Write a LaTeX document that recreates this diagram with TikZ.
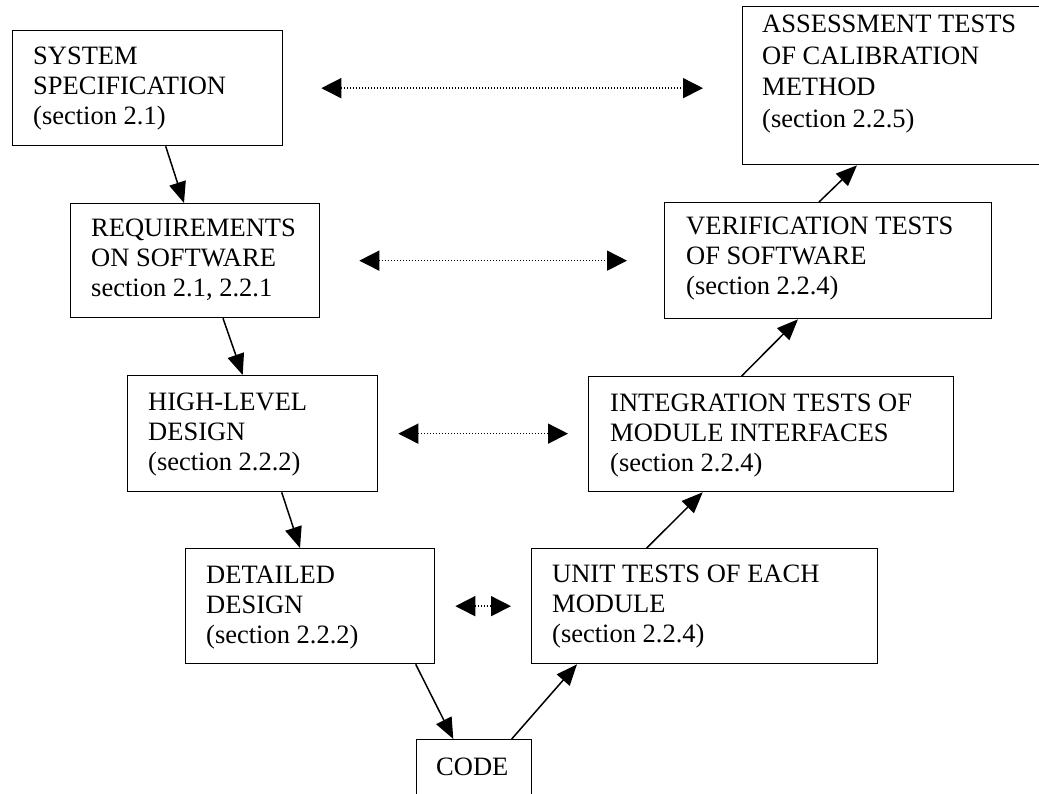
\documentclass[tikz,border=0pt]{standalone}
\usepackage{fontspec}
\setmainfont{Liberation Serif}
\usetikzlibrary{arrows.meta,calc}
% multi-line caption whose baseline is that of its first line
\newcommand{\stagetext}[1]{\parbox[t]{400pt}{\raggedright #1}}
\begin{document}
\begin{tikzpicture}[x=1pt,y=-1pt,
  stage/.style={draw, line width=1.3pt, rectangle, anchor=north west, inner sep=0pt},
  caption/.style={anchor=base west, inner sep=0pt, font=\fontsize{26.5}{30}\selectfont},
  flow/.style={line width=1.5pt, -{Triangle[length=21pt,width=17pt]}},
  link/.style={line width=1.5pt, dash pattern=on 1.3pt off 1.7pt,
    {Triangle[length=20pt,width=20pt]}-{Triangle[length=20pt,width=20pt]}}]
\useasboundingbox (0,0) rectangle (1039,794);
\clip (0,0) rectangle (1039,794);

% left leg: specification and design
\node[stage, minimum width=270pt, minimum height=115pt] (sys) at (12,30) {};
\node[stage, minimum width=249pt, minimum height=114pt] (req) at (70,203) {};
\node[stage, minimum width=250pt, minimum height=116pt] (high) at (127,375) {};
\node[stage, minimum width=249pt, minimum height=115pt] (det) at (185,548) {};
% bottom
\node[stage, minimum width=115pt, minimum height=90pt] (code) at (416,739) {};
% right leg: tests
\node[stage, minimum width=346pt, minimum height=115pt] (unit) at (531,548) {};
\node[stage, minimum width=365pt, minimum height=115pt] (int) at (588,376) {};
\node[stage, minimum width=327pt, minimum height=116pt] (ver) at (664,202) {};
\node[stage, minimum width=310pt, minimum height=158pt] (assess) at (742,6) {};

% captions
\node[caption] (sys-t) at ([xshift=21pt,yshift=-35pt]sys.north west)
  {\stagetext{SYSTEM\\SPECIFICATION\\(section 2.1)}};
\node[caption] (req-t) at ([xshift=21pt,yshift=-34pt]req.north west)
  {\stagetext{REQUIREMENTS\\ON SOFTWARE\\section 2.1, 2.2.1}};
\node[caption] (high-t) at ([xshift=21pt,yshift=-35pt]high.north west)
  {\stagetext{HIGH-LEVEL\\DESIGN\\(section 2.2.2)}};
\node[caption] (det-t) at ([xshift=21pt,yshift=-35pt]det.north west)
  {\stagetext{DETAILED\\DESIGN\\(section 2.2.2)}};
\node[caption] (code-t) at ([xshift=20pt,yshift=-36pt]code.north west) {CODE};
\node[caption] (unit-t) at ([xshift=21pt,yshift=-34pt]unit.north west)
  {\stagetext{UNIT TESTS OF EACH\\MODULE\\(section 2.2.4)}};
\node[caption] (int-t) at ([xshift=22pt,yshift=-35pt]int.north west)
  {\stagetext{INTEGRATION TESTS OF\\MODULE INTERFACES\\(section 2.2.4)}};
\node[caption] (ver-t) at ([xshift=22pt,yshift=-33pt]ver.north west)
  {\stagetext{VERIFICATION TESTS\\OF SOFTWARE\\(section 2.2.4)}};
\node[caption, font=\fontsize{26.5}{31.5}\selectfont] (assess-t)
  at ([xshift=20pt,yshift=-27pt]assess.north west)
  {\stagetext{ASSESSMENT TESTS\\OF CALIBRATION\\METHOD\\(section 2.2.5)}};

% development flow down the left leg
\draw[flow] ([xshift=153.7pt]sys.south west) -- ([xshift=114pt]req.north west);
\draw[flow] ([xshift=153pt]req.south west) -- ([xshift=115.7pt]high.north west);
\draw[flow] ([xshift=154.7pt]high.south west) -- ([xshift=115pt]det.north west);
\draw[flow] ([xshift=230.7pt]det.south west) -- ([xshift=37.3pt]code.north west);
% test flow up the right leg
\draw[flow] ([xshift=95.7pt]code.north west) -- ([xshift=46pt]unit.south west);
\draw[flow] ([xshift=115.7pt]unit.north west) -- ([xshift=114.7pt]int.south west);
\draw[flow] ([xshift=153.7pt]int.north west) -- ([xshift=134pt]ver.south west);
\draw[flow] ([xshift=155pt]ver.north west) -- ([xshift=115pt]assess.south west);

% correspondence between levels
\draw[link] ($(sys.east)+(38,0)$) -- ($(sys.east -| assess.west)+(-39,0)$);
\draw[link] ($(req.east)+(39,0)$) -- ($(req.east -| ver.west)+(-37,0)$);
\draw[link] ($(high.east)+(20,0)$) -- ($(high.east -| int.west)+(-20,0)$);
\draw[link] ($(det.east)+(20,0)$) -- ($(det.east -| unit.west)+(-20,0)$);
\end{tikzpicture}
\end{document}
